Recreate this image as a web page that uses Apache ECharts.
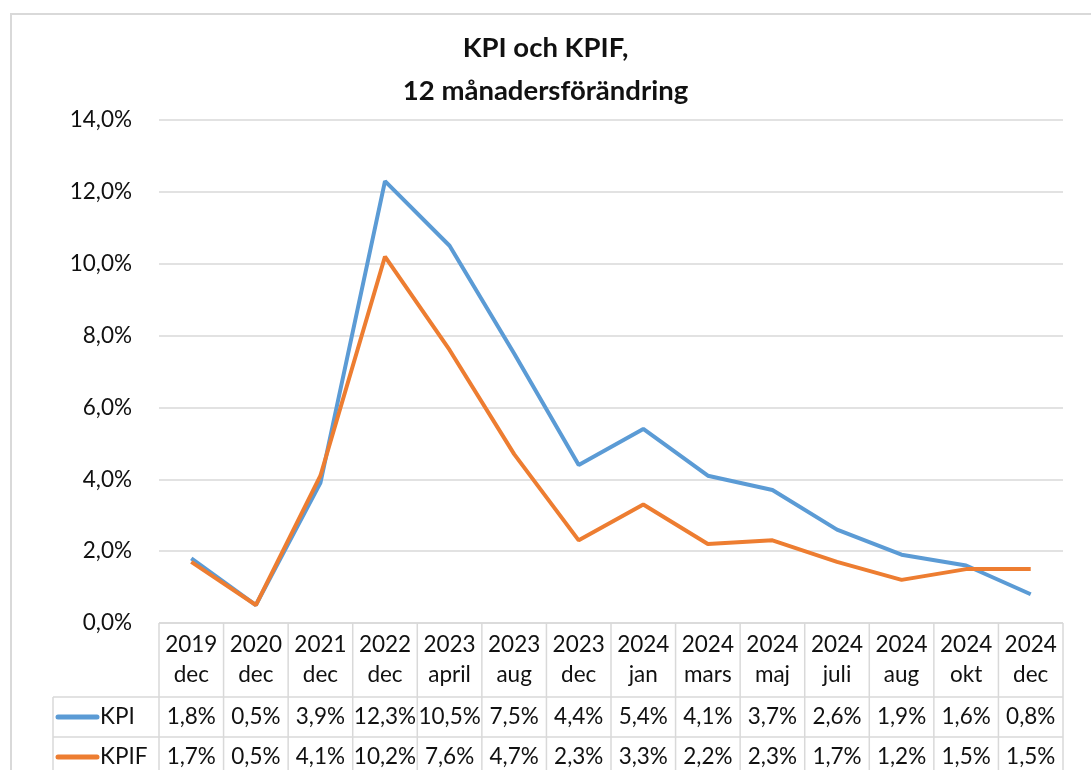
<!DOCTYPE html>
<html><head><meta charset="utf-8">
<script src="https://cdn.jsdelivr.net/npm/echarts@6/dist/echarts.min.js"></script>
<style>html,body{margin:0;padding:0;background:#fff}#c{width:1091px;height:770px}</style>
</head><body><div id="c"></div>
<script>
const categories = ['2019 dec','2020 dec','2021 dec','2022 dec','2023 april','2023 aug','2023 dec','2024 jan','2024 mars','2024 maj','2024 juli','2024 aug','2024 okt','2024 dec'];
const kpi  = [1.8,0.5,3.9,12.3,10.5,7.5,4.4,5.4,4.1,3.7,2.6,1.9,1.6,0.8];
const kpif = [1.7,0.5,4.1,10.2,7.6,4.7,2.3,3.3,2.2,2.3,1.7,1.2,1.5,1.5];
const seriesNames = ['KPI','KPIF'];
const colors = ['#5B9BD5','#ED7D31'];
const yMin = 0, yMax = 14, yStep = 2;
const titleText = 'KPI och KPIF,\n12 månadersförändring';

const FONT = 'Lato, Calibri, sans-serif';
const TXT = '#111111';
const GRIDC = '#d9d9d9';
const FS = 22.5;
const fmt = v => v.toFixed(1).replace('.', ',') + '%';

const chart = echarts.init(document.getElementById('c'), null, {renderer:'canvas'});
const option = {
  backgroundColor:'#fff',
  animation:false,
  title:{text:titleText,left:'center',top:22,textStyle:{fontFamily:FONT,fontSize:27.5,fontWeight:'bold',color:TXT,lineHeight:43}},
  grid:{left:159,right:28,top:120,bottom:147,containLabel:false},
  xAxis:{type:'category',data:categories,boundaryGap:true,
    axisLine:{show:false},axisTick:{show:false},axisLabel:{show:false},splitLine:{show:false}},
  yAxis:{type:'value',min:yMin,max:yMax,interval:yStep,
    axisLine:{show:false},axisTick:{show:false},
    axisLabel:{formatter:v=>fmt(v),fontFamily:FONT,fontSize:FS,color:TXT,margin:27},
    splitLine:{lineStyle:{color:GRIDC,width:1.5}}},
  series:[
    {name:seriesNames[0],type:'line',data:kpi,showSymbol:false,lineStyle:{width:4,color:colors[0]},itemStyle:{color:colors[0]}},
    {name:seriesNames[1],type:'line',data:kpif,showSymbol:false,lineStyle:{width:4,color:colors[1]},itemStyle:{color:colors[1]}}
  ]
};
chart.setOption(option);

// Data table built from the axis scale
const x0 = chart.convertToPixel({xAxisIndex:0},0);
const x1 = chart.convertToPixel({xAxisIndex:0},1);
const band = x1 - x0;
const yBase = chart.convertToPixel({yAxisIndex:0},0);
const headerH = 74, rowH = 40, legendLeft = 53;
const tableLeft = x0 - band/2;
const tableRight = tableLeft + band*categories.length;
const g = [];
g.push({type:'rect',shape:{x:11,y:14,width:1300,height:900},style:{fill:'none',stroke:GRIDC,lineWidth:2},silent:true,z:0});
const line = (xa,ya,xb,yb) => g.push({type:'line',shape:{x1:xa,y1:ya,x2:xb,y2:yb},style:{stroke:GRIDC,lineWidth:1.5},silent:true});
for (let i=0;i<=categories.length;i++){ const xb = tableLeft + band*i; line(xb,yBase,xb,yBase+headerH+rowH*3); }
line(tableLeft,yBase,tableRight,yBase);
line(legendLeft,yBase+headerH,tableRight,yBase+headerH);
line(legendLeft,yBase+headerH+rowH,tableRight,yBase+headerH+rowH);
line(legendLeft,yBase+headerH,legendLeft,yBase+headerH+rowH*3);
const data = [kpi,kpif];
categories.forEach((c,i)=>{
  const cx = chart.convertToPixel({xAxisIndex:0},i);
  g.push({type:'text',style:{text:c.replace(' ','\n'),x:cx,y:yBase+headerH/2,align:'center',verticalAlign:'middle',font:FS+'px '+FONT,fill:TXT,lineHeight:30},silent:true});
  data.forEach((arr,r)=>{
    g.push({type:'text',style:{text:fmt(arr[i]),x:cx,y:yBase+headerH+rowH*r+rowH/2,align:'center',verticalAlign:'middle',font:FS+'px '+FONT,fill:TXT},silent:true});
  });
});
seriesNames.forEach((n,r)=>{
  const cy = yBase+headerH+rowH*r+rowH/2;
  g.push({type:'line',shape:{x1:legendLeft+5,y1:cy,x2:legendLeft+44,y2:cy},style:{stroke:colors[r],lineWidth:5,lineCap:'round'},silent:true});
  g.push({type:'text',style:{text:n,x:legendLeft+47,y:cy,align:'left',verticalAlign:'middle',font:FS+'px '+FONT,fill:TXT},silent:true});
});
chart.setOption({graphic:{elements:g}});
</script></body></html>
